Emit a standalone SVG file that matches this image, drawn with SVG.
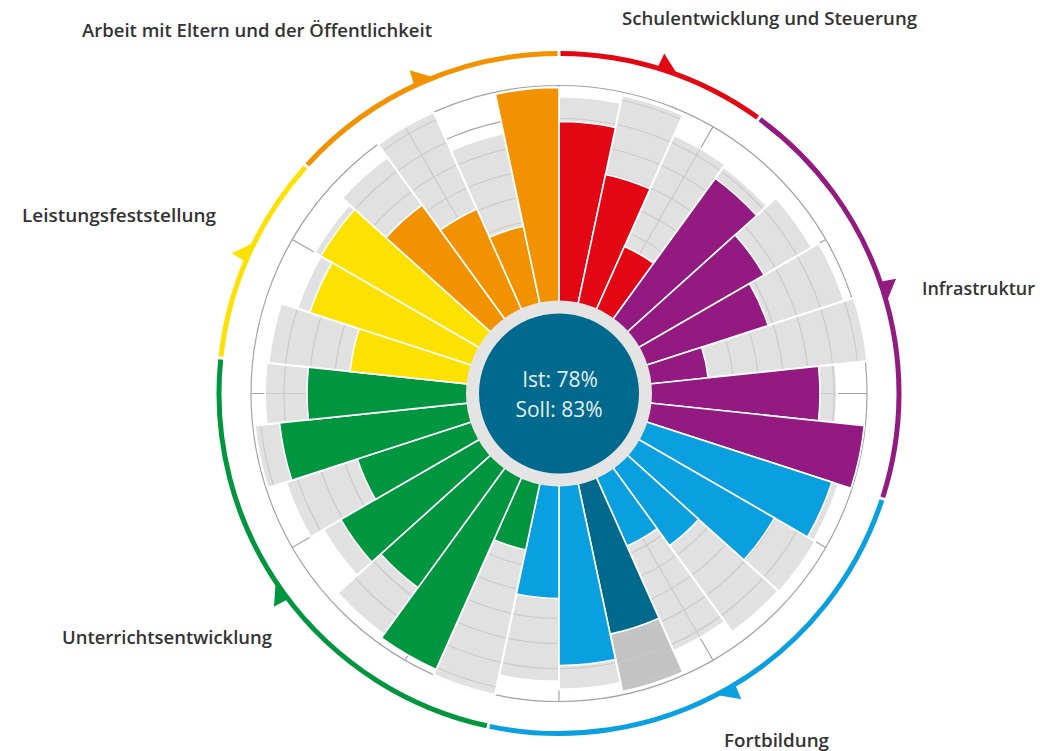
<svg xmlns="http://www.w3.org/2000/svg" width="1048" height="751" viewBox="0 0 1048 751">
<style>
.lbl{font-family:"Open Sans","Liberation Sans",sans-serif;font-weight:600;font-size:18px;fill:#333}
.ctr{font-family:"Open Sans","Liberation Sans",sans-serif;font-size:21px;fill:#e6eef2;text-anchor:middle}
.bars path{stroke:#fff;stroke-width:1.6}
.r{fill:#e30613}.p{fill:#921a80}.b{fill:#0aa0e0}.d{fill:#006a8d}.g{fill:#00963f}.y{fill:#fde100}.o{fill:#f39200}
.ring{fill:none;stroke-width:5}
.grid{fill:none;stroke:#cacaca;stroke-width:1.2}
.dk{fill:none;stroke:#a3a3a3;stroke-width:1.2}
</style>
<defs>
<g id="soll">
<path d="M0 0L-31.045 -295.373A297 297 0 0 1 31.045 -295.373Z" transform="rotate(6)"/>
<path d="M0 0L-31.881 -303.329A305 305 0 0 1 31.881 -303.329Z" transform="rotate(18)"/>
<path d="M0 0L-29.581 -281.45A283 283 0 0 1 29.581 -281.45Z" transform="rotate(30)"/>
<path d="M0 0L-29.268 -278.466A280 280 0 0 1 29.268 -278.466Z" transform="rotate(42)"/>
<path d="M0 0L-30.522 -290.4A292 292 0 0 1 30.522 -290.4Z" transform="rotate(54)"/>
<path d="M0 0L-31.358 -298.357A300 300 0 0 1 31.358 -298.357Z" transform="rotate(66)"/>
<path d="M0 0L-32.404 -308.302A310 310 0 0 1 32.404 -308.302Z" transform="rotate(78)"/>
<path d="M0 0L-29.059 -276.477A278 278 0 0 1 29.059 -276.477Z" transform="rotate(90)"/>
<path d="M0 0L-30.731 -292.389A294 294 0 0 1 30.731 -292.389Z" transform="rotate(114)"/>
<path d="M0 0L-30.94 -294.379A296 296 0 0 1 30.94 -294.379Z" transform="rotate(126)"/>
<path d="M0 0L-30.836 -293.384A295 295 0 0 1 30.836 -293.384Z" transform="rotate(138)"/>
<path d="M0 0L-29.477 -280.455A282 282 0 0 1 29.477 -280.455Z" transform="rotate(150)"/>
<path fill="#c3c3c3" d="M0 0L-31.881 -303.329A305 305 0 0 1 31.881 -303.329Z" transform="rotate(162)"/>
<path d="M0 0L-30.94 -294.379A296 296 0 0 1 30.94 -294.379Z" transform="rotate(174)"/>
<path d="M0 0L-30.104 -286.422A288 288 0 0 1 30.104 -286.422Z" transform="rotate(186)"/>
<path d="M0 0L-32.195 -306.313A308 308 0 0 1 32.195 -306.313Z" transform="rotate(198)"/>
<path d="M0 0L-31.149 -296.368A298 298 0 0 1 31.149 -296.368Z" transform="rotate(222)"/>
<path d="M0 0L-28.432 -270.51A272 272 0 0 1 28.432 -270.51Z" transform="rotate(234)"/>
<path d="M0 0L-29.998 -285.428A287 287 0 0 1 29.998 -285.428Z" transform="rotate(246)"/>
<path d="M0 0L-31.986 -304.324A306 306 0 0 1 31.986 -304.324Z" transform="rotate(258)"/>
<path d="M0 0L-30.731 -292.389A294 294 0 0 1 30.731 -292.389Z" transform="rotate(270)"/>
<path d="M0 0L-30.522 -290.4A292 292 0 0 1 30.522 -290.4Z" transform="rotate(282)"/>
<path d="M0 0L-28.745 -273.494A275 275 0 0 1 28.745 -273.494Z" transform="rotate(294)"/>
<path d="M0 0L-29.477 -280.455A282 282 0 0 1 29.477 -280.455Z" transform="rotate(306)"/>
<path d="M0 0L-30.522 -290.4A292 292 0 0 1 30.522 -290.4Z" transform="rotate(318)"/>
<path d="M0 0L-32.195 -306.313A308 308 0 0 1 32.195 -306.313Z" transform="rotate(330)"/>
<path d="M0 0L-27.804 -264.543A266 266 0 0 1 27.804 -264.543Z" transform="rotate(342)"/>
</g>
<mask id="gm" maskUnits="userSpaceOnUse" x="-400" y="-400" width="800" height="800">
<use href="#soll" fill="#fff" stroke="#000" stroke-width="2.5"/>
</mask>
</defs>
<rect width="1048" height="751" fill="#fff"/>
<g id="chart" transform="translate(559,393.5)">
<g id="outer-grid" class="dk">
<circle r="308"/>
<path d="M0 -150V-308M75 -129.904L154 -266.736M129.904 -75L266.736 -154M150 0H308M129.904 75L266.736 154M75 129.904L154 266.736M0 150V308M-75 129.904L-154 266.736M-129.904 75L-266.736 154M-150 0H-308M-129.904 -75L-266.736 -154M-75 -129.904L-154 -266.736"/>
<path d="M-113.073 -253.966A278 278 0 0 1 -57.8 -271.925"/>
</g>
<use id="soll-sectors" href="#soll" fill="#e1e1e1" stroke="#fff" stroke-width="2"/>
<g id="inner-grid" class="grid" mask="url(#gm)">
<circle r="125"/><circle r="150"/><circle r="175"/><circle r="200"/><circle r="225"/><circle r="250"/><circle r="275"/><circle r="300"/>
<path d="M0 0L156 -270.2M0 0L312 0M0 0L156 270.2M0 0L-156 270.2M0 0L-312 0M0 0L-156 -270.2"/>
</g>
<g id="ist-bars" class="bars">
<path class="r" d="M0 0L-28.432 -270.51A272 272 0 0 1 28.432 -270.51Z" transform="rotate(6)"/>
<path class="r" d="M0 0L-23.414 -222.773A224 224 0 0 1 23.414 -222.773Z" transform="rotate(18)"/>
<path class="r" d="M0 0L-16.829 -160.118A161 161 0 0 1 16.829 -160.118Z" transform="rotate(30)"/>
<path class="p" d="M0 0L-27.804 -264.543A266 266 0 0 1 27.804 -264.543Z" transform="rotate(42)"/>
<path class="p" d="M0 0L-24.773 -235.702A237 237 0 0 1 24.773 -235.702Z" transform="rotate(54)"/>
<path class="p" d="M0 0L-22.996 -218.795A220 220 0 0 1 22.996 -218.795Z" transform="rotate(66)"/>
<path class="p" d="M0 0L-15.679 -149.178A150 150 0 0 1 15.679 -149.178Z" transform="rotate(78)"/>
<path class="p" d="M0 0L-27.282 -259.57A261 261 0 0 1 27.282 -259.57Z" transform="rotate(90)"/>
<path class="p" d="M0 0L-32.09 -305.318A307 307 0 0 1 32.09 -305.318Z" transform="rotate(102)"/>
<path class="b" d="M0 0L-29.998 -285.428A287 287 0 0 1 29.998 -285.428Z" transform="rotate(114)"/>
<path class="b" d="M0 0L-26.027 -247.636A249 249 0 0 1 26.027 -247.636Z" transform="rotate(126)"/>
<path class="b" d="M0 0L-19.651 -186.97A188 188 0 0 1 19.651 -186.97Z" transform="rotate(138)"/>
<path class="b" d="M0 0L-17.456 -166.085A167 167 0 0 1 17.456 -166.085Z" transform="rotate(150)"/>
<path class="d" d="M0 0L-25.714 -244.652A246 246 0 0 1 25.714 -244.652Z" transform="rotate(162)"/>
<path class="b" d="M0 0L-28.432 -270.51A272 272 0 0 1 28.432 -270.51Z" transform="rotate(174)"/>
<path class="b" d="M0 0L-21.428 -203.877A205 205 0 0 1 21.428 -203.877Z" transform="rotate(186)"/>
<path class="g" d="M0 0L-16.724 -159.124A160 160 0 0 1 16.724 -159.124Z" transform="rotate(198)"/>
<path class="g" d="M0 0L-31.567 -300.346A302 302 0 0 1 31.567 -300.346Z" transform="rotate(210)"/>
<path class="g" d="M0 0L-25.087 -238.685A240 240 0 0 1 25.087 -238.685Z" transform="rotate(222)"/>
<path class="g" d="M0 0L-26.341 -250.62A252 252 0 0 1 26.341 -250.62Z" transform="rotate(234)"/>
<path class="g" d="M0 0L-22.16 -210.839A212 212 0 0 1 22.16 -210.839Z" transform="rotate(246)"/>
<path class="g" d="M0 0L-29.372 -279.461A281 281 0 0 1 29.372 -279.461Z" transform="rotate(258)"/>
<path class="g" d="M0 0L-26.341 -250.62A252 252 0 0 1 26.341 -250.62Z" transform="rotate(270)"/>
<path class="y" d="M0 0L-21.951 -208.85A210 210 0 0 1 21.951 -208.85Z" transform="rotate(282)"/>
<path class="y" d="M0 0L-27.386 -260.565A262 262 0 0 1 27.386 -260.565Z" transform="rotate(294)"/>
<path class="y" d="M0 0L-28.745 -273.494A275 275 0 0 1 28.745 -273.494Z" transform="rotate(306)"/>
<path class="o" d="M0 0L-24.355 -231.724A233 233 0 0 1 24.355 -231.724Z" transform="rotate(318)"/>
<path class="o" d="M0 0L-21.115 -200.893A202 202 0 0 1 21.115 -200.893Z" transform="rotate(330)"/>
<path class="o" d="M0 0L-17.874 -170.063A171 171 0 0 1 17.874 -170.063Z" transform="rotate(342)"/>
<path class="o" d="M0 0L-31.986 -304.324A306 306 0 0 1 31.986 -304.324Z" transform="rotate(354)"/>
</g>
<g id="center">
<circle r="93" fill="#e4e4e4"/>
<circle r="80" fill="#006a8e"/>
</g>
<g id="category-ring">
<path class="ring" stroke="#e30613" d="M1.484 -339.997A340 340 0 0 1 198.645 -275.935"/>
<path class="ring" stroke="#921a80" d="M201.045 -274.191A340 340 0 0 1 323.814 103.654"/>
<path class="ring" stroke="#0aa0e0" d="M322.898 106.475A340 340 0 0 1 -69.238 332.875"/>
<path class="ring" stroke="#00963f" d="M-72.141 332.259A340 340 0 0 1 -338.289 -34.064"/>
<path class="ring" stroke="#fde100" d="M-337.979 -37.014A340 340 0 0 1 -253.659 -226.4"/>
<path class="ring" stroke="#f39200" d="M-251.674 -228.604A340 340 0 0 1 -1.484 -339.997"/>
<path fill="#e30613" d="M-7 -340L-5 -356L14 -340Z" transform="rotate(18)"/>
<path fill="#921a80" d="M-7 -340L-5 -356L14 -340Z" transform="rotate(72)"/>
<path fill="#0aa0e0" d="M-7 -340L-5 -356L14 -340Z" transform="rotate(150)"/>
<path fill="#00963f" d="M-7 -340L-5 -356L14 -340Z" transform="rotate(234)"/>
<path fill="#fde100" d="M-7 -340L-5 -356L14 -340Z" transform="rotate(294)"/>
<path fill="#f39200" d="M-7 -340L-5 -356L14 -340Z" transform="rotate(336)"/>
</g>
</g>
<g id="center-text">
<text class="ctr" x="560" y="387">Ist: 78%</text>
<text class="ctr" x="559" y="417">Soll: 83%</text>
</g>
<g id="labels">
<text class="lbl" x="622" y="25" textLength="295" lengthAdjust="spacingAndGlyphs">Schulentwicklung und Steuerung</text>
<text class="lbl" x="82" y="37" textLength="350" lengthAdjust="spacingAndGlyphs">Arbeit mit Eltern und der Öffentlichkeit</text>
<text class="lbl" x="22" y="222" textLength="194" lengthAdjust="spacingAndGlyphs">Leistungsfeststellung</text>
<text class="lbl" x="922" y="295" textLength="113" lengthAdjust="spacingAndGlyphs">Infrastruktur</text>
<text class="lbl" x="62" y="644" textLength="210" lengthAdjust="spacingAndGlyphs">Unterrichtsentwicklung</text>
<text class="lbl" x="724" y="747" textLength="105" lengthAdjust="spacingAndGlyphs">Fortbildung</text>
</g>
</svg>
